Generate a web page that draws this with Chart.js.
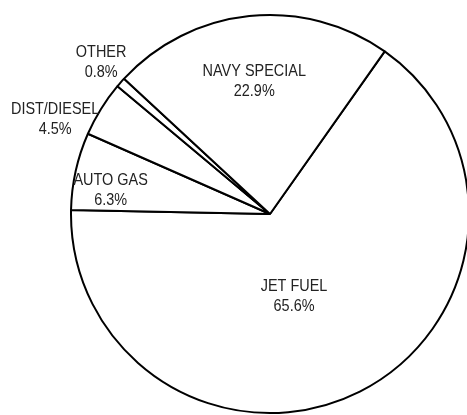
<!DOCTYPE html>
<html>
<head>
<meta charset="utf-8">
<script src="https://cdn.jsdelivr.net/npm/chart.js@4.4.1/dist/chart.umd.min.js"></script>
<style>
    html, body { margin: 0; padding: 0; background: #fff; overflow: hidden; }
</style>
</head>
<body>
<canvas id="chartFuel" width="480" height="415"></canvas>
<script>
const fuelTypes = ['JET FUEL', 'AUTO GAS', 'DIST/DIESEL', 'OTHER', 'NAVY SPECIAL'];
const fuelShares = [65.6, 6.3, 4.5, 0.8, 22.9];

// where each label sits: angle shift (deg) from the slice middle, distance as part of the radius
const labelPlace = [
    {shift: 10.5, dist: 0.43},
    {shift: -3.9, dist: 0.81},
    {shift: -8.1, dist: 1.18},
    {shift: 0.5, dist: 1.14},
    {shift: -0.8, dist: 0.67}
];

const sliceLabels = {
    id: 'sliceLabels',
    afterDatasetsDraw(chart) {
        const ctx = chart.ctx;
        const arcs = chart.getDatasetMeta(0).data;
        arcs.forEach(function (arc, i) {
            const p = arc.getProps(['x', 'y', 'startAngle', 'endAngle', 'outerRadius'], true);
            const mid = (p.startAngle + p.endAngle) / 2 + labelPlace[i].shift * Math.PI / 180;
            const r = p.outerRadius * labelPlace[i].dist;
            const x = p.x + Math.cos(mid) * r;
            const y = p.y + Math.sin(mid) * r;
            ctx.save();
            ctx.translate(x, y);
            ctx.scale(0.85, 1);  // narrow lettering like the original
            ctx.font = '17px "Liberation Sans", Arial, sans-serif';
            ctx.fillStyle = '#222';
            ctx.textAlign = 'center';
            ctx.textBaseline = 'middle';
            ctx.fillText(fuelTypes[i], 0, -10);
            ctx.fillText(fuelShares[i].toFixed(1) + '%', 0, 10);
            ctx.restore();
        });
    }
};

const ctx = document.getElementById('chartFuel').getContext('2d');
const chartFuel = new Chart(ctx, {
    type: 'pie',
    data: {
        labels: fuelTypes,
        datasets: [
            {
                data: fuelShares,
                backgroundColor: '#ffffff',
                borderColor: '#000000',
                borderWidth: 2
            }
        ]
    },
    options: {
        responsive: false,
        animation: false,
        rotation: 35.2,
        layout: {
            padding: {left: 70, right: 10, top: 14, bottom: 1}
        },
        plugins: {
            legend: {display: false},
            tooltip: {enabled: false}
        }
    },
    plugins: [sliceLabels]
});
</script>
</body>
</html>
